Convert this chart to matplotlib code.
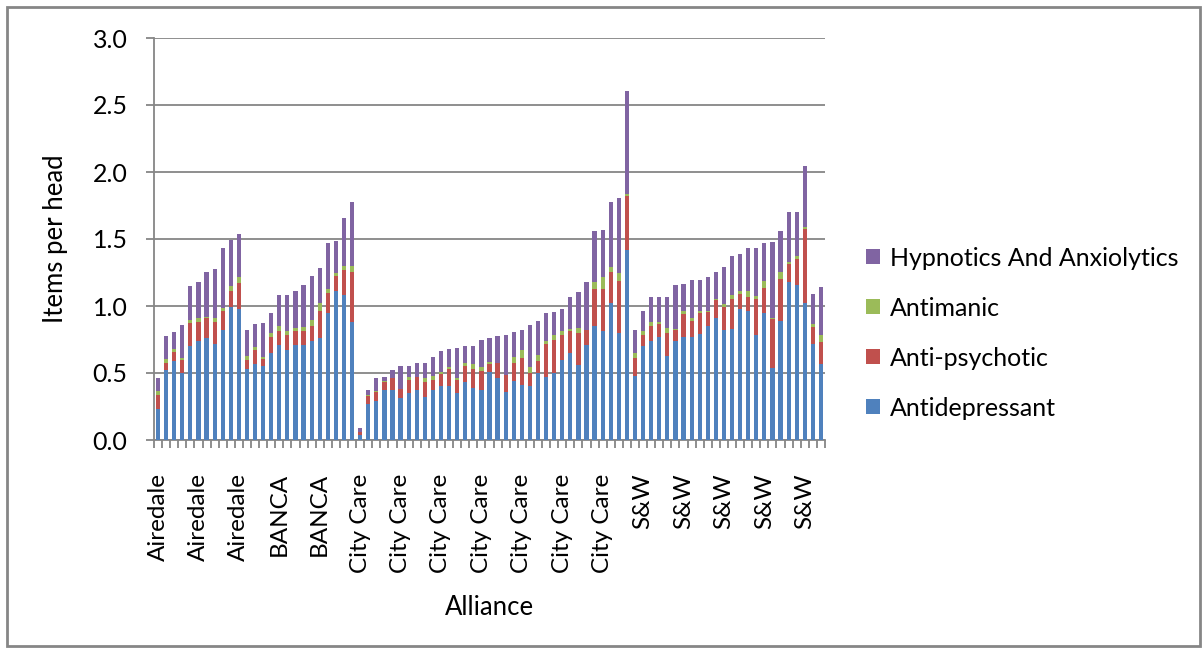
import matplotlib.pyplot as plt
import numpy as np
from matplotlib.patches import Rectangle

plt.rcParams['font.family'] = ['Lato', 'DejaVu Sans']

# one bar per practice, grouped by alliance
alliance = ["Airedale"] * 11 + ["BANCA"] * 14 + ["City Care"] * 34 + ["S&W"] * 24

antidepressant = [
    0.23, 0.52, 0.59, 0.50, 0.70, 0.74, 0.76, 0.72, 0.82, 0.99, 0.98,
    0.53, 0.57, 0.55, 0.65, 0.71, 0.67, 0.71, 0.71, 0.74, 0.76, 0.95, 1.11, 1.08, 0.88,
    0.037, 0.27, 0.29, 0.37, 0.37, 0.31, 0.35, 0.37, 0.32, 0.37, 0.40, 0.40, 0.35, 0.43,
    0.39, 0.37, 0.51, 0.46, 0.36, 0.44, 0.41, 0.40, 0.50, 0.47, 0.50, 0.60, 0.65, 0.56,
    0.71, 0.85, 0.81, 1.02, 0.80, 1.42,
    0.48, 0.70, 0.74, 0.77, 0.63, 0.74, 0.77, 0.77, 0.79, 0.85, 0.91, 0.82, 0.83, 0.98,
    0.96, 0.78, 0.95, 0.54, 0.89, 1.18, 1.16, 1.02, 0.72, 0.57,
]
anti_psychotic = [
    0.105, 0.055, 0.065, 0.10, 0.175, 0.137, 0.149, 0.164, 0.145, 0.125, 0.195,
    0.067, 0.105, 0.052, 0.119, 0.105, 0.115, 0.107, 0.10, 0.114, 0.202, 0.145, 0.117, 0.187, 0.375,
    0.023, 0.06, 0.068, 0.06, 0.09, 0.07, 0.095, 0.097, 0.112, 0.075, 0.09, 0.128, 0.097, 0.12,
    0.142, 0.142, 0.06, 0.112, 0.122, 0.132, 0.20, 0.10, 0.087, 0.247, 0.247, 0.184, 0.162, 0.239,
    0.112, 0.278, 0.319, 0.237, 0.385, 0.399,
    0.135, 0.085, 0.114, 0.099, 0.169, 0.079, 0.174, 0.119, 0.159, 0.105, 0.134, 0.175, 0.225, 0.11,
    0.105, 0.274, 0.185, 0.364, 0.308, 0.13, 0.19, 0.555, 0.127, 0.165,
]
antimanic = [
    0.03, 0.027, 0.022, 0.015, 0.019, 0.03, 0.01, 0.03, 0.02, 0.035, 0.042,
    0.03, 0.02, 0.015, 0.03, 0.034, 0.03, 0.02, 0.034, 0.038, 0.058, 0.035, 0.023, 0.035, 0.045,
    0.002, 0.005, 0.007, 0.007, 0.003, 0.003, 0.022, 0.003, 0.03, 0.03, 0.015, 0.015, 0.015, 0.022,
    0.037, 0.03, 0.015, 0.003, 0.003, 0.045, 0.06, 0.045, 0.045, 0.023, 0.033, 0.03, 0.015, 0.038,
    0.002, 0.052, 0.09, 0.033, 0.06, 0.02,
    0.035, 0.03, 0.023, 0.008, 0.04, 0.01, 0.015, 0.018, 0.015, 0.01, 0.01, 0.02, 0.03, 0.023,
    0.05, 0.023, 0.053, 0.01, 0.059, 0.02, 0.02, 0.015, 0.022, 0.045,
]
hypnotics = [
    0.10, 0.172, 0.127, 0.24, 0.255, 0.275, 0.335, 0.365, 0.45, 0.34, 0.318,
    0.195, 0.172, 0.255, 0.15, 0.233, 0.267, 0.277, 0.315, 0.334, 0.262, 0.337, 0.232, 0.352, 0.479,
    0.028, 0.037, 0.097, 0.03, 0.057, 0.167, 0.083, 0.102, 0.113, 0.142, 0.158, 0.135, 0.225, 0.128,
    0.135, 0.203, 0.173, 0.199, 0.299, 0.187, 0.149, 0.312, 0.255, 0.209, 0.177, 0.165, 0.24, 0.27,
    0.358, 0.382, 0.345, 0.484, 0.559, 0.764,
    0.174, 0.149, 0.187, 0.187, 0.225, 0.33, 0.203, 0.285, 0.233, 0.252, 0.202, 0.277, 0.29, 0.277,
    0.315, 0.359, 0.284, 0.567, 0.30, 0.374, 0.329, 0.454, 0.223, 0.364,
]

series = [
    ("Antidepressant", antidepressant, "#4F81BD"),
    ("Anti-psychotic", anti_psychotic, "#C0504D"),
    ("Antimanic", antimanic, "#9BBB59"),
    ("Hypnotics And Anxiolytics", hypnotics, "#8064A2"),
]

fig = plt.figure(figsize=(12.04, 6.51), dpi=100)
ax = fig.add_axes([154 / 1204, 1 - 440 / 651, 671 / 1204, 402 / 651])

x = np.arange(len(alliance))
bottom = np.zeros(len(alliance))
for name, vals, col in series:
    ax.bar(x, vals, 0.52, bottom=bottom, color=col, label=name, zorder=3)
    bottom += np.array(vals)

grid_col = "#868686"
ax.set_ylim(0, 3.0)
ax.set_xlim(-0.5, len(alliance) - 0.5)
ax.set_yticks(np.arange(0, 3.01, 0.5))
ax.set_yticklabels([f"{v:.1f}" for v in np.arange(0, 3.01, 0.5)])
ax.yaxis.grid(True, color=grid_col, linewidth=1.3, zorder=0)

# every 5th category is labelled, tick marks sit between categories
ax.set_xticks(x[::5])
ax.set_xticklabels([alliance[i] for i in x[::5]], rotation=90)
ax.set_xticks(np.arange(-0.5, len(alliance)), minor=True)
ax.tick_params(axis="x", which="major", length=0, pad=24, labelsize=17.5)
ax.tick_params(axis="x", which="minor", length=6, width=1.3, color=grid_col, direction="out")
ax.tick_params(axis="y", length=6, width=1.3, color=grid_col, pad=13, labelsize=18)

for side in ["top", "right"]:
    ax.spines[side].set_visible(False)
for side in ["left", "bottom"]:
    ax.spines[side].set_color(grid_col)
    ax.spines[side].set_linewidth(1.3)

ax.set_ylabel("Items per head", fontsize=18.5)
ax.yaxis.set_label_coords(-0.128, 0.5)
ax.set_xlabel("Alliance", fontsize=18.5)
ax.xaxis.set_label_coords(0.5, -0.385)

handles, labels = ax.get_legend_handles_labels()
fig.legend(handles[::-1], labels[::-1], loc="center left",
           bbox_to_anchor=(866 / 1204, 1 - 333 / 651), frameon=False,
           fontsize=18, handlelength=0.55, handleheight=0.55, handletextpad=0.4,
           labelspacing=1.08, borderpad=0, borderaxespad=0)

fig.patches.append(Rectangle((7 / 1204, 5 / 651), 1193 / 1204, 639 / 651,
                             transform=fig.transFigure, fill=False,
                             edgecolor=grid_col, linewidth=2))

plt.savefig("out.png", dpi=100)
